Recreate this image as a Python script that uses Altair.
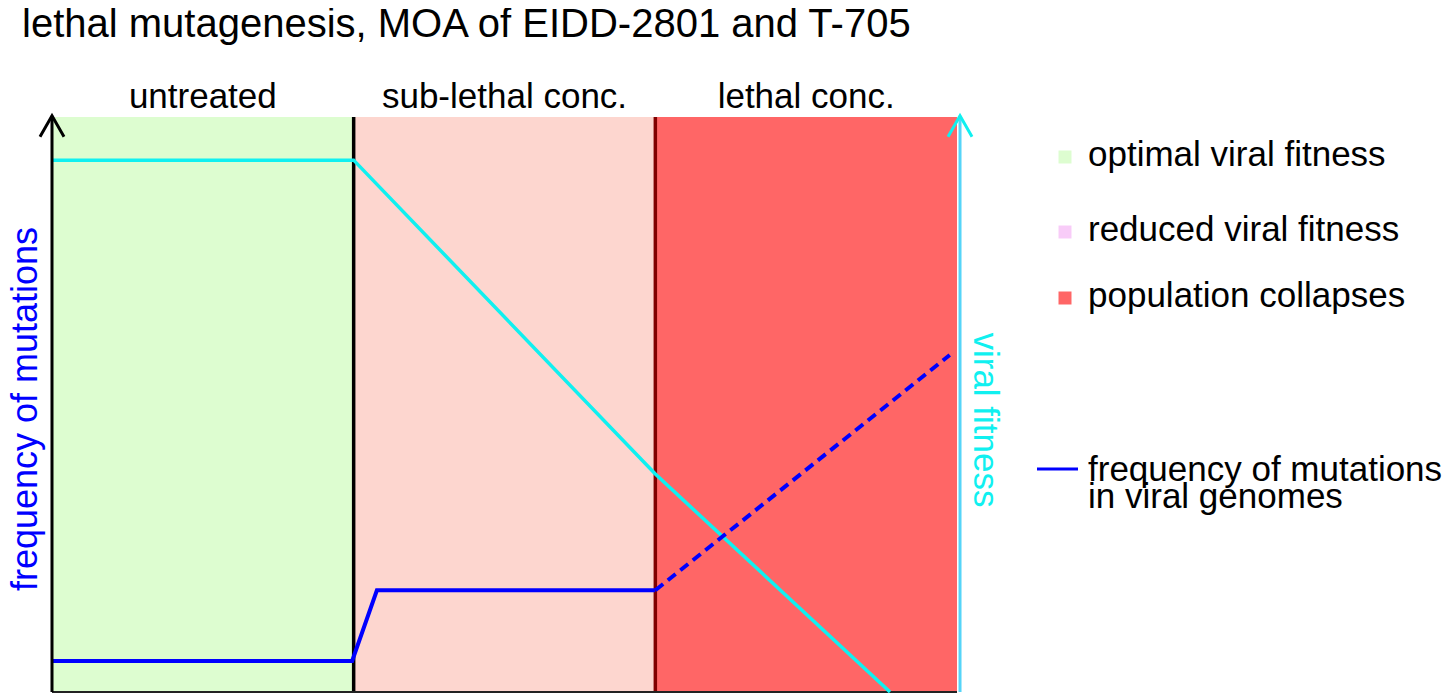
import altair as alt
import pandas as pd

FONT = "Liberation Sans"

# ---- data ----
title_text = "lethal mutagenesis, MOA of EIDD-2801 and T-705"
region_labels = ["untreated", "sub-lethal conc.", "lethal conc."]
region_start = [0, 1, 2]
region_end = [1, 2, 3]
region_colors = ["#ddfdd0", "#fdd6cf", "#ff6666"]

fitness_x = [0, 1, 2, 2.778]
fitness_y = [0.925, 0.925, 0.379, 0.0]

mut_x = [0, 0.995, 1.077, 2]
mut_y = [0.054, 0.054, 0.177, 0.177]

mut_dash_x = [2, 2.976]
mut_dash_y = [0.177, 0.586]

legend_labels = ["optimal viral fitness", "reduced viral fitness", "population collapses"]
legend_colors = ["#ddfdd0", "#f8ccf8", "#ff6666"]
line_legend_lines = ["frequency of mutations", "in viral genomes"]

BLUE = "#0000ff"
CYAN = "#10f0f0"
AXCYAN = "#55d4f8"

xs = alt.Scale(domain=[0, 3], nice=False, zero=False)
ys = alt.Scale(domain=[0, 1], nice=False, zero=False)
X = lambda f: alt.X(f, type="quantitative", scale=xs, axis=None)
Y = lambda f: alt.Y(f, type="quantitative", scale=ys, axis=None)

regions = pd.DataFrame({"x0": region_start, "x1": region_end, "c": region_colors,
                        "label": region_labels,
                        "mid": [(a + b) / 2 for a, b in zip(region_start, region_end)],
                        "y0": [0] * 3, "y1": [1] * 3})

rects = alt.Chart(regions).mark_rect().encode(
    x=X("x0"), x2="x1", y=Y("y0"), y2="y1",
    color=alt.Color("c:N", scale=None))

region_text = alt.Chart(regions).mark_text(
    font=FONT, fontSize=35, baseline="alphabetic", align="center", color="black"
).encode(x=X("mid"), y=alt.value(-9), text="label:N")

dummy = pd.DataFrame({"a": [0]})

# boundaries
bounds = pd.DataFrame({"x": [1, 2], "c": ["#000000", "#800000"], "y0": [0, 0], "y1": [1, 1]})
bound_rules = alt.Chart(bounds).mark_rule(strokeWidth=3.5).encode(
    x=X("x"), y=Y("y0"), y2="y1", color=alt.Color("c:N", scale=None))

left_axis = alt.Chart(pd.DataFrame({"x": [0], "y0": [0], "y1": [1.002]})).mark_rule(
    strokeWidth=3, color="black").encode(x=X("x"), y=Y("y0"), y2="y1")
bottom_axis = alt.Chart(pd.DataFrame({"x0": [0], "x1": [3], "y": [0]})).mark_rule(
    strokeWidth=2, color="#222222").encode(x=X("x0"), x2="x1", y=Y("y"))
right_axis = alt.Chart(pd.DataFrame({"x": [3.01], "y0": [0], "y1": [1.002]})).mark_rule(
    strokeWidth=3, color=AXCYAN).encode(x=X("x"), y=Y("y0"), y2="y1")

chevron = "M -1 1.75 L 0 0 L 1 1.75"
left_arrow = alt.Chart(pd.DataFrame({"x": [0], "y": [1.002]})).mark_point(
    shape=chevron, size=576, filled=False, stroke="black", strokeWidth=3, opacity=1
).encode(x=X("x"), y=Y("y"))
right_arrow = alt.Chart(pd.DataFrame({"x": [3.01], "y": [1.002]})).mark_point(
    shape=chevron, size=576, filled=False, stroke=CYAN, strokeWidth=3, opacity=1
).encode(x=X("x"), y=Y("y"))

fit_line = alt.Chart(pd.DataFrame({"x": fitness_x, "y": fitness_y, "o": range(len(fitness_x))})).mark_line(
    color=CYAN, strokeWidth=3.5).encode(x=X("x"), y=Y("y"), order="o:Q")
mut_line = alt.Chart(pd.DataFrame({"x": mut_x, "y": mut_y, "o": range(len(mut_x))})).mark_line(
    color=BLUE, strokeWidth=4).encode(x=X("x"), y=Y("y"), order="o:Q")
mut_dash = alt.Chart(pd.DataFrame({"x": mut_dash_x, "y": mut_dash_y, "o": range(len(mut_dash_x))})).mark_line(
    color=BLUE, strokeWidth=4, strokeDash=[10, 6]).encode(x=X("x"), y=Y("y"), order="o:Q")

title = alt.Chart(dummy).mark_text(
    text=title_text, font=FONT, fontSize=40, align="left", baseline="alphabetic", color="black"
).encode(x=alt.value(-30), y=alt.value(-80))

left_label = alt.Chart(dummy).mark_text(
    text="frequency of mutations", font=FONT, fontSize=36, angle=270, align="center",
    baseline="middle", color=BLUE
).encode(x=alt.value(-26), y=alt.value(292))

right_label = alt.Chart(dummy).mark_text(
    text="viral fitness", font=FONT, fontSize=35, angle=90, align="center",
    baseline="middle", color=CYAN
).encode(x=alt.value(933), y=alt.value(303))

legend_layers = []
leg_y = [40, 115, 181]
for lab, col, yy in zip(legend_labels, legend_colors, leg_y):
    legend_layers.append(alt.Chart(dummy).mark_square(
        size=169, color=col, opacity=1).encode(x=alt.value(1013), y=alt.value(yy)))
    legend_layers.append(alt.Chart(dummy).mark_text(
        text=lab, font=FONT, fontSize=35, align="left", baseline="alphabetic", color="black"
    ).encode(x=alt.value(1036), y=alt.value(yy + 9)))

legend_layers.append(alt.Chart(dummy).mark_rule(color=BLUE, strokeWidth=3).encode(
    x=alt.value(985), x2=alt.value(1026), y=alt.value(352)))
for i, t in enumerate(line_legend_lines):
    legend_layers.append(alt.Chart(dummy).mark_text(
        text=t, font=FONT, fontSize=35, align="left", baseline="alphabetic", color="black"
    ).encode(x=alt.value(1036), y=alt.value(364 + 27 * i)))

chart = alt.layer(
    rects, bound_rules, bottom_axis, fit_line, mut_line, mut_dash,
    left_axis, right_axis, left_arrow, right_arrow,
    region_text, title, left_label, right_label, *legend_layers
).properties(
    width=905, height=575,
    autosize=alt.AutoSizeParams(type="none"),
    padding={"left": 44, "top": 109, "right": 489, "bottom": 5},
).configure_view(stroke=None)

chart.save("out.html", embed_options={"renderer": "svg", "actions": False})
